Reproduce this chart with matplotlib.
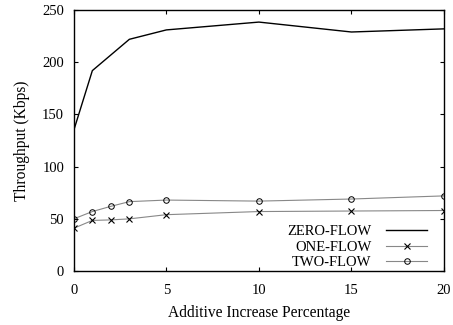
import matplotlib
matplotlib.use('Agg')
import matplotlib.pyplot as plt

plt.rcParams['font.family'] = ['Liberation Serif', 'DejaVu Serif']

x = [0, 1, 2, 3, 5, 10, 15, 20]
zero_flow = [135, 192, 207, 222, 231, 238.5, 229, 232]
one_flow = [41, 48.5, 49, 50, 54, 57, 57.5, 58]
two_flow = [50, 57, 62, 66.5, 68, 67, 69, 72]

fig = plt.figure(figsize=(4.53, 3.25), dpi=100)
ax = fig.add_axes([0.163, 0.166, 0.817, 0.803])

ax.plot(x, zero_flow, color='black', lw=1.0, label='ZERO-FLOW')
ax.plot(x, one_flow, color='#888888', lw=0.8, marker='x', ms=4,
        mec='black', mew=0.8, label='ONE-FLOW')
ax.plot(x, two_flow, color='#888888', lw=0.8, marker='o', ms=4,
        mfc='none', mec='black', mew=0.7, label='TWO-FLOW')

ax.set_xlim(0, 20)
ax.set_ylim(0, 250)
ax.set_xticks([0, 5, 10, 15, 20])
ax.set_yticks([0, 50, 100, 150, 200, 250])
ax.tick_params(direction='in', top=True, right=True, labelsize=10.5, length=3, width=0.8)
ax.tick_params(axis='x', pad=9)
ax.tick_params(axis='y', pad=7)
for s in ax.spines.values():
    s.set_linewidth(1.0)

ax.set_xlabel('Additive Increase Percentage', fontsize=11.2, labelpad=6)
ax.set_ylabel('Throughput (Kbps)', fontsize=11.2, labelpad=9)

leg = ax.legend(loc='lower right', frameon=False, markerfirst=False, fontsize=10.5,
                handlelength=2.8, handletextpad=1.0, labelspacing=0.15,
                borderpad=0, borderaxespad=0,
                bbox_to_anchor=(0.9426, 0.172), bbox_transform=fig.transFigure)
for t in leg.get_texts():
    t.set_ha('right')

fig.savefig('out.png', dpi=100)
